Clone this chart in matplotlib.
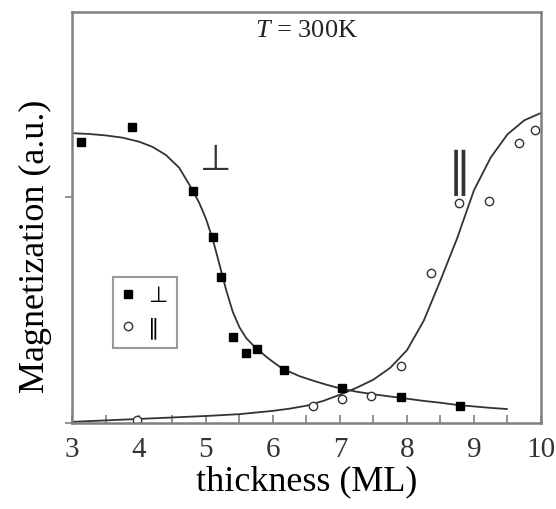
import matplotlib
matplotlib.use('Agg')
import matplotlib.pyplot as plt
from matplotlib.ticker import MultipleLocator

plt.rcParams['mathtext.fontset'] = 'custom'
plt.rcParams['mathtext.rm'] = 'Liberation Serif'
plt.rcParams['mathtext.it'] = 'Liberation Serif:italic'

# measured points (thickness in ML, magnetization in a.u.)
perp_x = [3.14, 3.90, 4.80, 5.11, 5.23, 5.41, 5.60, 5.76, 6.16, 7.03, 7.91, 8.79]
perp_y = [0.764, 0.804, 0.631, 0.506, 0.396, 0.233, 0.190, 0.201, 0.144, 0.095, 0.071, 0.046]

par_x = [3.97, 6.60, 7.03, 7.46, 7.91, 8.36, 8.78, 9.23, 9.67, 9.91]
par_y = [0.008, 0.046, 0.065, 0.073, 0.155, 0.408, 0.599, 0.603, 0.762, 0.796]

# fitted curves
perp_fit_x = [3.0, 3.25, 3.5, 3.75, 4.0, 4.2, 4.4, 4.6, 4.8, 4.9, 5.0, 5.1,
              5.2, 5.3, 5.4, 5.5, 5.6, 5.7, 5.8, 5.9, 6.0, 6.1, 6.2, 6.4,
              6.6, 6.8, 7.0, 7.25, 7.5, 7.75, 8.0, 8.25, 8.5, 8.75, 9.0,
              9.25, 9.49]
perp_fit_y = [0.788, 0.786, 0.782, 0.776, 0.765, 0.751, 0.729, 0.694, 0.633,
              0.598, 0.555, 0.500, 0.432, 0.362, 0.302, 0.260, 0.231, 0.212,
              0.196, 0.180, 0.166, 0.153, 0.143, 0.127, 0.115, 0.104, 0.094,
              0.085, 0.078, 0.072, 0.066, 0.060, 0.055, 0.049, 0.045, 0.041,
              0.038]

par_fit_x = [3.0, 3.5, 4.0, 4.5, 5.0, 5.5, 6.0, 6.25, 6.5, 6.75, 7.0, 7.25,
             7.5, 7.75, 8.0, 8.25, 8.5, 8.75, 9.0, 9.25, 9.5, 9.75, 10.0]
par_fit_y = [0.003, 0.007, 0.011, 0.015, 0.019, 0.024, 0.033, 0.039, 0.047,
             0.060, 0.077, 0.096, 0.118, 0.150, 0.198, 0.278, 0.388, 0.503,
             0.633, 0.722, 0.785, 0.823, 0.843]

SERIF = ['Liberation Serif', 'DejaVu Serif']
SYM = ['DejaVu Sans']
FRAME = '#808080'

fig = plt.figure(figsize=(5.56, 5.09), dpi=100)
ax = fig.add_axes([0.1295, 0.169, 0.8435, 0.807])

ax.plot(perp_fit_x, perp_fit_y, color='#333333', lw=1.3)
ax.plot(par_fit_x, par_fit_y, color='#333333', lw=1.3)
ax.plot(perp_x, perp_y, 's', color='black', ms=6, mec='black', label='\u22a5')
ax.plot(par_x, par_y, 'o', mfc='white', mec='#333333', mew=1.0, ms=6,
        label='\u2225')

ax.set_xlim(3, 10)
ax.set_ylim(0, 1.117)

ax.xaxis.set_major_locator(MultipleLocator(1))
ax.xaxis.set_minor_locator(MultipleLocator(0.5))
ax.tick_params(axis='x', which='both', direction='in', length=6, width=1.2,
               color=FRAME, top=False, pad=10)
ax.set_xticks(range(3, 11))
ax.set_xticklabels([str(v) for v in range(3, 11)], fontfamily=SERIF,
                   fontsize=21, color='#333333')
ax.set_yticks([0, 0.614])
ax.set_yticklabels([])
ax.tick_params(axis='y', direction='out', length=5, width=1.2, color=FRAME)

for sp in ax.spines.values():
    sp.set_color(FRAME)
    sp.set_linewidth(1.8)

ax.set_xlabel('thickness (ML)', fontfamily=SERIF, fontsize=26, labelpad=2)
ax.set_ylabel('Magnetization (a.u.)', fontfamily=SERIF, fontsize=26,
              labelpad=4)
ax.yaxis.set_label_coords(-0.043, 0.43)

ax.text(0.5, 0.955, '$T$ = 300K', transform=ax.transAxes, ha='center',
        va='center', fontfamily=SERIF, fontsize=19, color='#222222')
ax.text(5.15, 0.715, '\u22a5', ha='center', va='center', fontfamily=SYM,
        fontsize=26, color='#333333')
ax.text(8.78, 0.68, '\u2225', ha='center', va='center', fontfamily=SYM,
        fontsize=34, color='#333333')

leg = ax.legend(loc='upper left', bbox_to_anchor=(0.087, 0.355),
                prop={'family': SYM, 'size': 16}, frameon=True,
                fancybox=False, edgecolor=FRAME, handlelength=0.6,
                handletextpad=0.6, borderpad=0.4, labelspacing=0.5,
                borderaxespad=0)
leg.get_frame().set_linewidth(1.5)

fig.savefig('out.png', dpi=100)
